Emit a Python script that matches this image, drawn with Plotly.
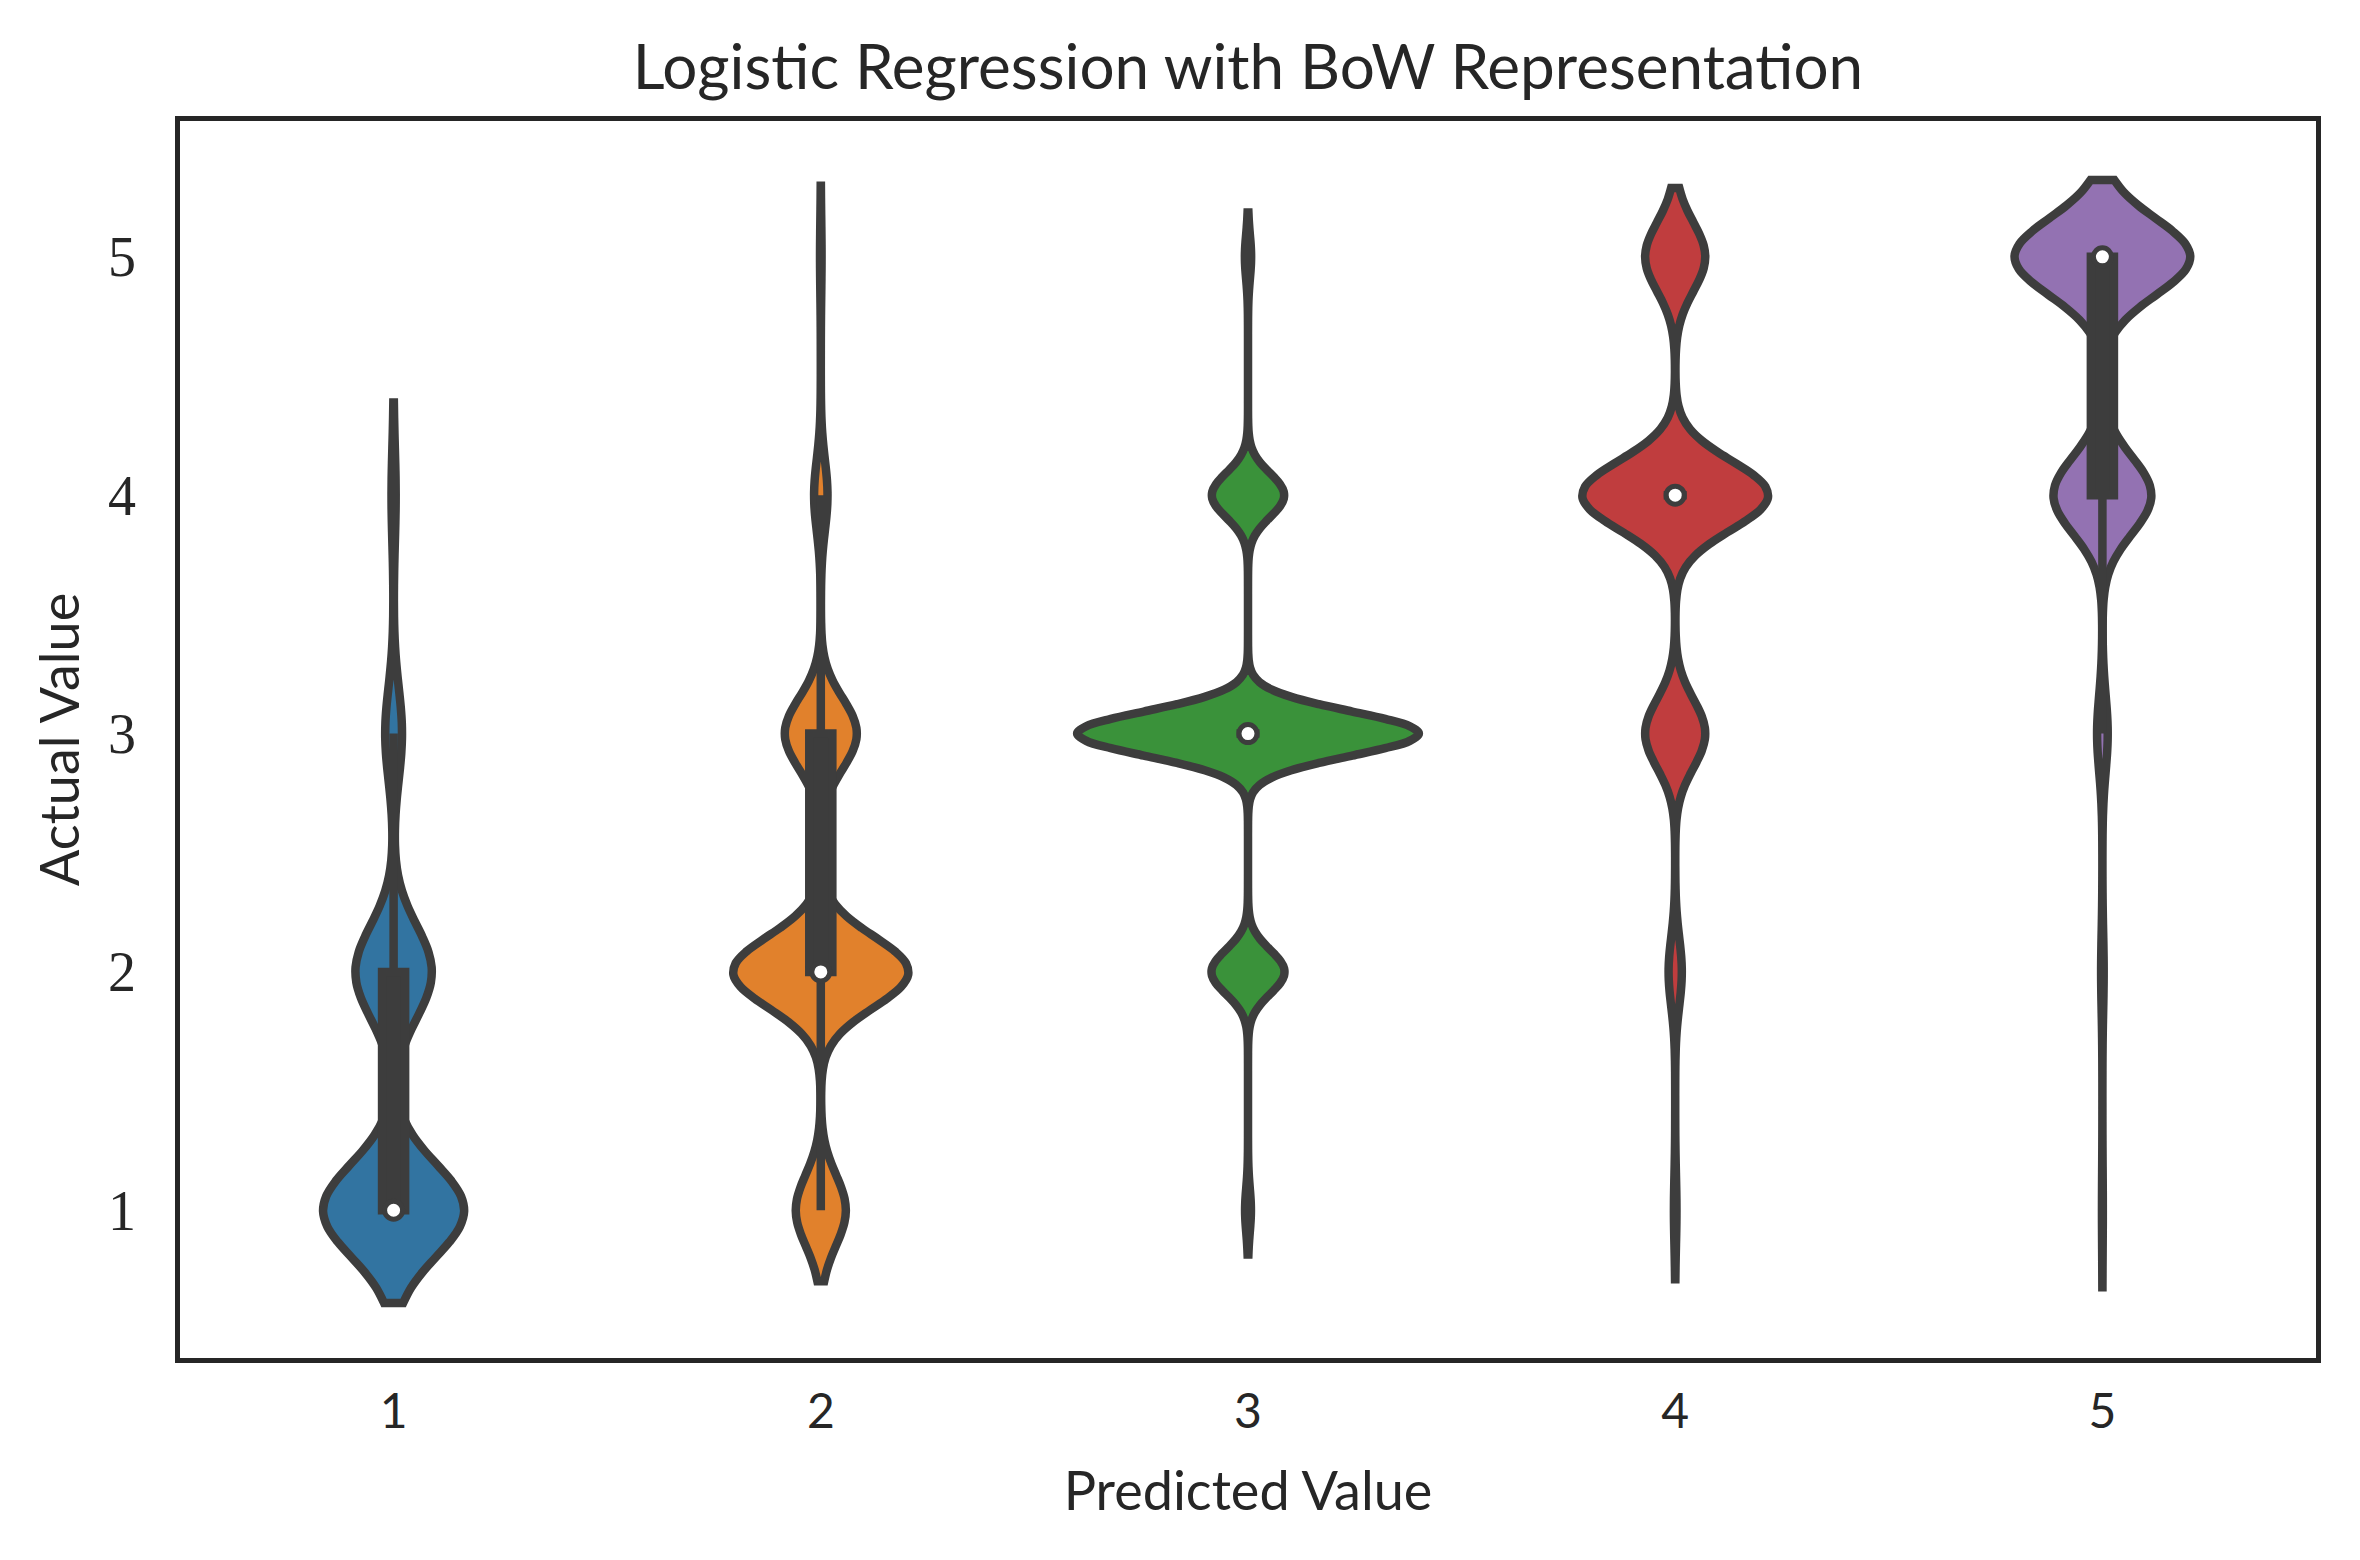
import numpy as np
import plotly.graph_objects as go

# counts of each actual rating for every predicted rating
predicted = [1, 2, 3, 4, 5]
actual_levels = [1, 2, 3, 4, 5]
pred1_counts = [369, 200, 44, 11, 0]
pred2_counts = [552, 1932, 794, 148, 17]
pred3_counts = [160, 1990, 9300, 1970, 170]
pred4_counts = [35, 180, 818, 2530, 818]
pred5_counts = [3, 9, 37, 340, 610]
all_counts = [pred1_counts, pred2_counts, pred3_counts, pred4_counts, pred5_counts]

colors = ['#3274a1', '#e1812c', '#3a923a', '#c03d3e', '#9372b2']
gray = '#3d3d3d'
text_color = '#262626'
sans = 'Lato, Roboto, sans-serif'
serif = 'Liberation Serif, DejaVu Serif, serif'


def scott_bw(vals):
    return vals.std(ddof=1) * len(vals) ** -0.2


def kde_peak(vals, bw):
    """Max of the gaussian kde, used to give every violin the same area."""
    levels, counts = np.unique(vals, return_counts=True)
    grid = np.linspace(vals.min() - 2 * bw, vals.max() + 2 * bw, 600)
    dens = (counts[:, None] * np.exp(-0.5 * ((grid - levels[:, None]) / bw) ** 2)).sum(0)
    return dens.max() / (len(vals) * bw)


samples = [np.repeat(actual_levels, c).astype(float) for c in all_counts]
bws = [scott_bw(s) for s in samples]
peaks = [kde_peak(s, b) for s, b in zip(samples, bws)]
widths = [0.8 * p / max(peaks) for p in peaks]
medians = [float(np.median(s)) for s in samples]

box_w = 0.054  # data units
lw = 8.5

fig = go.Figure()
for pos, vals, bw, w, col in zip(predicted, samples, bws, widths, colors):
    fig.add_trace(go.Violin(
        x0=pos, y=vals, bandwidth=bw, spanmode='soft',
        width=w, scalemode='width',
        fillcolor=col, opacity=1,
        line=dict(color=gray, width=lw),
        points=False,
        box=dict(visible=True, width=box_w / w, fillcolor=gray,
                 line=dict(color=gray, width=lw)),
        meanline=dict(visible=False),
        hoverinfo='skip', showlegend=False))

fig.add_trace(go.Scatter(
    x=predicted, y=medians, mode='markers',
    marker=dict(color='white', size=18, line=dict(color=gray, width=5)),
    hoverinfo='skip', showlegend=False))

# page body keeps its default 8px margin, so the figure is a bit smaller
W, H = 2344, 1544
fig.update_layout(
    width=W, height=H,
    violinmode='overlay',
    paper_bgcolor='white', plot_bgcolor='white',
    margin=dict(l=172, r=36, t=113, b=194),
    title=dict(text='Logistic Regression with BoW Representation',
               font=dict(family=sans, size=62, color=text_color),
               x=0.5, xref='paper', xanchor='center',
               y=1 - 59 / H, yref='container', yanchor='middle'),
    font=dict(family=sans, color=text_color))

fig.update_xaxes(
    range=[0.5, 5.5], tickvals=predicted, ticktext=[str(p) for p in predicted],
    ticks='', ticklabelstandoff=8,
    tickfont=dict(family=sans, size=48, color=text_color),
    title=dict(text='Predicted Value', font=dict(family=sans, size=54, color=text_color),
               standoff=36),
    showgrid=False, zeroline=False,
    showline=True, mirror=True, linecolor=text_color, linewidth=4.5)

fig.update_yaxes(
    range=[0.38, 5.57], tickvals=actual_levels, ticktext=[str(a) for a in actual_levels],
    ticks='', ticklabelstandoff=28,
    tickfont=dict(family=serif, size=56, color=text_color),
    title=dict(text='Actual Value', font=dict(family=sans, size=54, color=text_color),
               standoff=13),
    showgrid=False, zeroline=False,
    showline=True, mirror=True, linecolor=text_color, linewidth=4.5)

fig.write_html('out.html')
